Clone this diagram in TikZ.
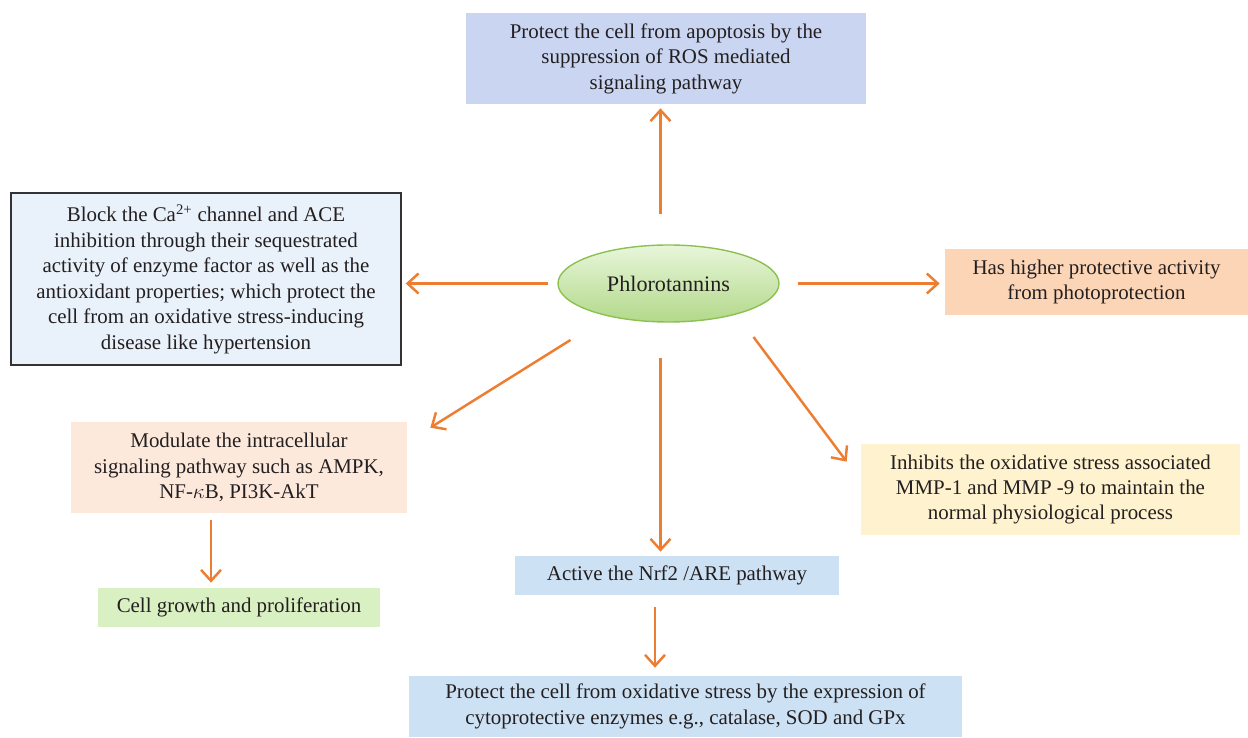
\documentclass[tikz,border=0pt]{standalone}
\usepackage{fontspec}
\setmainfont{Liberation Serif}
\usetikzlibrary{arrows.meta,calc,shadings,shapes.geometric}

\definecolor{arrowc}{HTML}{ED7D31}
\definecolor{txt}{HTML}{231F20}
\definecolor{topfill}{HTML}{C9D5F1}
\definecolor{blockfill}{HTML}{E9F1FA}
\definecolor{peach}{HTML}{FBD5B5}
\definecolor{lightpeach}{HTML}{FDE9DC}
\definecolor{lightgreen}{HTML}{D9F0C2}
\definecolor{cream}{HTML}{FFF2CE}
\definecolor{paleblue}{HTML}{CDE1F4}
\definecolor{ellborder}{HTML}{8CC152}

\tikzset{
    box/.style={inner sep=0pt, align=center, text=txt,
        font=\fontsize{11.9}{14.5}\selectfont},
    arr/.style={draw=arrowc, line width=1.4pt,
        -{Straight Barb[length=2.2mm,width=4mm,line width=1.4pt]}},
}

\begin{document}
\begin{tikzpicture}
    \useasboundingbox (0,0) rectangle (24.96,14.74);

    % Centre
    \node[ellipse, draw=ellborder, line width=0.8pt, top color=lightgreen!60!white,
        bottom color=ellborder!50!lightgreen, minimum width=4.42cm, minimum height=1.54cm,
        text=txt, font=\fontsize{12.6}{15}\selectfont] (phl) at (13.37,9.07) {Phlorotannins};

    % Boxes round it
    \node[box, fill=topfill, minimum width=8cm, minimum height=1.82cm] (top) at (13.32,13.57)
        {Protect the cell from apoptosis by the\\suppression of ROS mediated\\signaling pathway};
    \node[box, fill=blockfill, draw=black!80, line width=0.8pt, minimum width=7.8cm,
        minimum height=3.44cm] (block) at (4.12,9.16)
        {Block the Ca\textsuperscript{2+} channel and ACE\\inhibition through their sequestrated\\activity of enzyme factor as well as the\\antioxidant properties; which protect the\\cell from an oxidative stress-inducing\\disease like hypertension};
    \node[box, fill=peach, minimum width=6.06cm, minimum height=1.32cm] (photo) at (21.93,9.10)
        {Has higher protective activity\\from photoprotection};
    \node[box, fill=lightpeach, minimum width=6.72cm, minimum height=1.82cm] (modulate) at (4.78,5.39)
        {Modulate the intracellular\\signaling pathway such as AMPK,\\NF-$\kappa$B, PI3K-AkT};
    \node[box, fill=lightgreen, minimum width=5.64cm, minimum height=0.78cm] (growth) at (4.78,2.59)
        {Cell growth and proliferation};
    \node[box, fill=cream, minimum width=7.58cm, minimum height=1.82cm] (mmp) at (21.01,4.95)
        {Inhibits the oxidative stress associated\\MMP-1 and MMP -9 to maintain the\\normal physiological process};
    \node[box, fill=paleblue, minimum width=6.48cm, minimum height=0.78cm] (nrf) at (13.54,3.23)
        {Active the Nrf2 /ARE pathway};
    \node[box, fill=paleblue, minimum width=11.06cm, minimum height=1.22cm] (enz) at (13.71,0.61)
        {Protect the cell from oxidative stress by the expression of\\cytoprotective enzymes e.g., catalase, SOD and GPx};

    % Arrows
    \draw[arr, shorten <=0.6cm, shorten >=0.08cm] ([xshift=-0.16cm]phl.north)
        -- ([xshift=-0.16cm]phl.north |- top.south);
    \draw[arr, shorten <=0.18cm, shorten >=0.08cm] (phl.west) -- (phl.west -| block.east);
    \draw[arr, shorten <=0.36cm, shorten >=0.1cm] (phl.east) -- (phl.east -| photo.west);
    \draw[arr] ($(phl.center)+(-1.96,-1.13)$) -- ($(modulate.north east)+(0.46,-0.12)$);
    \draw[arr] ($(phl.center)+(1.70,-1.07)$) -- ($(mmp.north west)+(-0.28,-0.36)$);
    \draw[arr, shorten <=0.7cm, shorten >=0.08cm] ([xshift=-0.16cm]phl.south)
        -- ([xshift=-0.16cm]phl.south |- nrf.north);

    \draw[arr, shorten <=0.14cm, shorten >=0.1cm] ([xshift=-0.56cm]modulate.south)
        -- ([xshift=-0.56cm]modulate.south |- growth.north);
    \draw[arr, shorten <=0.24cm, shorten >=0.16cm] ([xshift=-0.44cm]nrf.south)
        -- ([xshift=-0.44cm]nrf.south |- enz.north);

\end{tikzpicture}
\end{document}
